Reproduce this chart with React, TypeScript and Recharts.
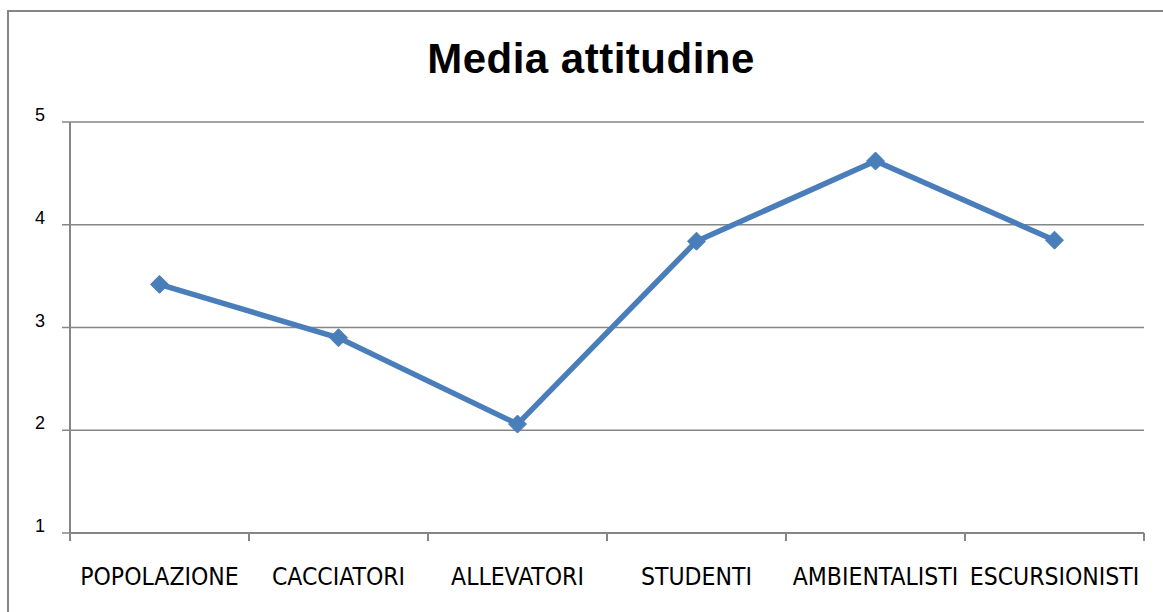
import { CartesianGrid, Line, LineChart, XAxis, YAxis } from 'recharts'

const categories = [
  'POPOLAZIONE',
  'CACCIATORI',
  'ALLEVATORI',
  'STUDENTI',
  'AMBIENTALISTI',
  'ESCURSIONISTI',
]
const mediaValues = [3.42, 2.9, 2.06, 3.84, 4.62, 3.85]
const yTicks = [1, 2, 3, 4, 5]

const data = categories.map((name, i) => ({
  pos: i + 0.5,
  name,
  media: mediaValues[i],
}))

// ticks at the category boundaries (integers) and labels at the centres (halves)
const xTicks = Array.from({ length: categories.length * 2 + 1 }, (_, i) => i / 2)

const AXIS = '#868686'
const BLUE = '#4a7ebb'
const NARROW = '"Liberation Sans Narrow", "Arial Narrow", "DejaVu Sans Condensed", "Liberation Sans", sans-serif'
const SANS = '"Liberation Sans", Arial, sans-serif'

function CategoryTick(props: { x?: number; y?: number; payload?: { value: number } }) {
  const { x = 0, payload } = props
  const v = payload?.value ?? 0
  if (Number.isInteger(v)) {
    return <line x1={x} y1={533} x2={x} y2={541} stroke={AXIS} strokeWidth={2} />
  }
  const label = categories[Math.floor(v)]
  return (
    <text x={x} y={585} textAnchor='middle' fontSize={24.5} fontFamily={NARROW} fill='#000'>
      {label}
    </text>
  )
}

function ValueTick(props: { x?: number; y?: number; payload?: { value: number } }) {
  const { x = 0, y = 0, payload } = props
  return (
    <text x={x} y={y - 1} textAnchor='end' fontSize={18} fontFamily={SANS} fill='#000'>
      {payload?.value}
    </text>
  )
}

function Diamond(props: { cx?: number; cy?: number; index?: number }) {
  const { cx = 0, cy = 0, index } = props
  const r = 9
  return (
    <path
      key={index}
      d={`M${cx},${cy - r} L${cx + r},${cy} L${cx},${cy + r} L${cx - r},${cy} Z`}
      fill={BLUE}
      stroke={BLUE}
      strokeWidth={1}
      strokeLinejoin='round'
    />
  )
}

export default function App() {
  return (
    <div style={{ position: 'absolute', left: 0, top: 0, width: 1163, height: 612, background: '#fff', overflow: 'hidden' }}>
      <div
        style={{
          position: 'absolute',
          left: 7,
          top: 10,
          width: 1200,
          height: 700,
          border: `2px solid ${AXIS}`,
          boxSizing: 'border-box',
        }}
      />
      <div
        style={{
          position: 'absolute',
          left: 0,
          width: 1182,
          top: 34,
          textAlign: 'center',
          fontFamily: SANS,
          fontWeight: 'bold',
          fontSize: 42,
          letterSpacing: 0.5,
          lineHeight: '50px',
          color: '#000',
        }}
      >
        Media attitudine
      </div>
      <LineChart
        width={1163}
        height={612}
        data={data}
        margin={{ top: 122, right: 19, bottom: 0, left: 0 }}
        style={{ position: 'absolute', left: 0, top: 0 }}
      >
        <CartesianGrid vertical={false} stroke={AXIS} strokeWidth={1.5} />
        <XAxis
          dataKey='pos'
          type='number'
          domain={[0, categories.length]}
          ticks={xTicks}
          interval={0}
          height={79}
          tickSize={0}
          tickMargin={0}
          tickLine={false}
          axisLine={{ stroke: AXIS, strokeWidth: 2 }}
          tick={<CategoryTick />}
        />
        <YAxis
          domain={[1, 5]}
          ticks={yTicks}
          width={70}
          tickSize={8}
          tickMargin={17}
          axisLine={{ stroke: AXIS, strokeWidth: 2 }}
          tickLine={{ stroke: AXIS, strokeWidth: 1.5 }}
          tick={<ValueTick />}
        />
        <Line
          type='linear'
          dataKey='media'
          stroke={BLUE}
          strokeWidth={5.5}
          dot={<Diamond />}
          activeDot={false}
          isAnimationActive={false}
        />
      </LineChart>
    </div>
  )
}
